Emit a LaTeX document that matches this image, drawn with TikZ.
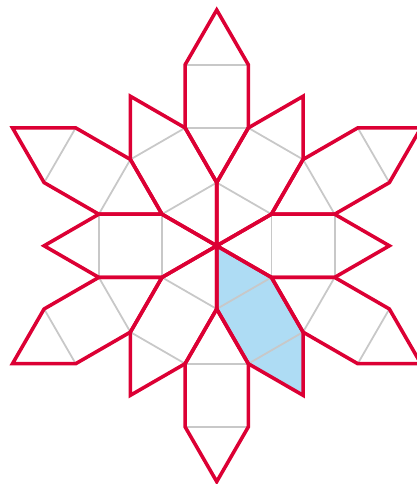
\documentclass[tikz,border=0pt]{standalone}
\usepackage{xcolor}
\definecolor{rodred}{RGB}{220,0,52}
\definecolor{rodblue}{RGB}{174,220,244}
\definecolor{seamgray}{RGB}{200,200,200}

\begin{document}
\begin{tikzpicture}[x=1cm, y=1cm,
    rim/.style={draw=rodred, line width=1.6pt, line join=miter},
    seam/.style={draw=seamgray, line width=0.8pt},
    shade/.style={fill=rodblue}]
  \useasboundingbox (-3.43,-3.77) rectangle (3.16,3.89);
  % the one coloured rod
  \fill[shade, rotate=300] (0,0) -- ++(-30:1) -- ++(1,0) -- ++(30:1)
        -- ++(150:1) -- ++(-1,0) -- cycle;
  % grey seams inside each rod
  \foreach \a/\s in {0/0,60/0,120/0,180/0,240/0,300/0,
                     30/1,90/1,150/1,210/1,270/1,330/1}
    \draw[seam, rotate=\a] ({\s+0.866},-0.5) -- ++(0,1)
                           ({\s+1.866},-0.5) -- ++(0,1);
  % red outlines
  \foreach \a/\s in {0/0,60/0,120/0,180/0,240/0,300/0,
                     30/1,90/1,150/1,210/1,270/1,330/1}
    \draw[rim, rotate=\a] (\s,0) -- ++(-30:1) -- ++(1,0) -- ++(30:1)
          -- ++(150:1) -- ++(-1,0) -- cycle;
\end{tikzpicture}
\end{document}
